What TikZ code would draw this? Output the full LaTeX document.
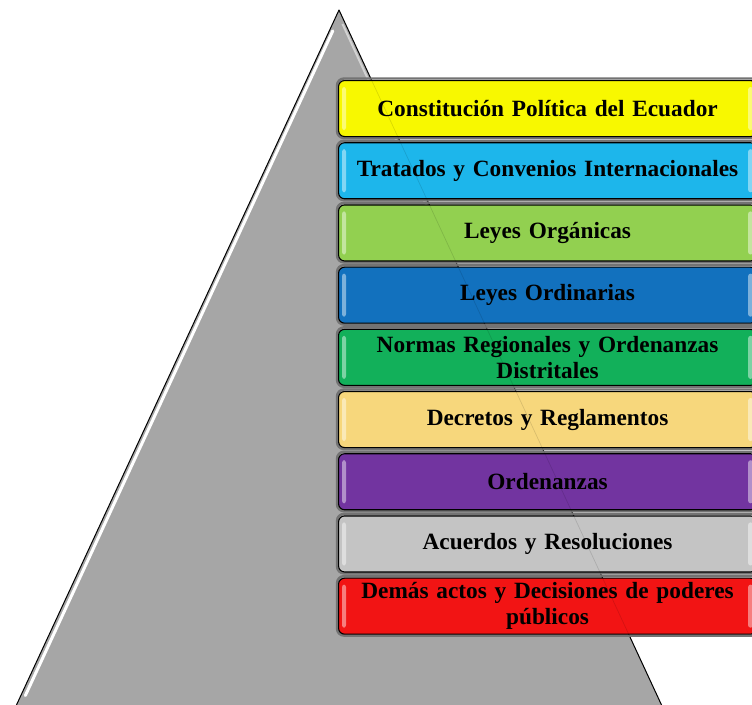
\documentclass[tikz,border=0pt]{standalone}
\usepackage{fontspec}
\setmainfont{Liberation Serif}
\usetikzlibrary{calc}
\definecolor{cYel}{HTML}{F8F800}
\definecolor{cCyan}{HTML}{1DB6EB}
\definecolor{cLgreen}{HTML}{92D050}
\definecolor{cBlue}{HTML}{1271BE}
\definecolor{cGreen}{HTML}{12B05A}
\definecolor{cOrange}{HTML}{F7D77C}
\definecolor{cPurple}{HTML}{7234A0}
\definecolor{cGray}{HTML}{C4C4C4}
\definecolor{cRed}{HTML}{F21414}
\definecolor{triGray}{HTML}{A6A6A6}
\tikzset{
  lvl/.style={draw=black, line width=1.1pt, rounded corners=6pt, minimum width=418pt, minimum height=56pt,
    inner sep=0pt, align=center, font=\fontsize{23.3}{26}\selectfont\bfseries, text width=410pt,
    anchor=north west},
  shade/.style={draw=black!55, line width=2.4pt, rounded corners=7pt},
  hilite/.style={fill=white, fill opacity=0.45, rounded corners=2.5pt},
}
\begin{document}
\begin{tikzpicture}[x=1pt,y=-1pt]
\useasboundingbox (0,0) rectangle (752,704);
\fill[white] (0,0) rectangle (752,704);
% triangle
\coordinate (apex) at (339,10);
\coordinate (bl) at (16,706);
\coordinate (br) at (662,706);
\fill[triGray] (apex) -- (bl) -- (br) -- cycle;
\draw[white, line width=3pt, line cap=round] ($(apex)!0.03!(bl)+(3.5,0)$) -- ($(apex)!0.985!(bl)+(4.5,0)$);
\draw[white, opacity=0.5, line width=2pt] ($(apex)!0.02!(br)+(-3,0)$) -- ($(apex)!0.3!(br)+(-3.5,0)$);
\draw[black, line width=1pt, line join=round] (bl) -- (apex) -- (br);
% boxes
\foreach \i/\col/\txt in {
  0/cYel/{Constitución Política del Ecuador},
  1/cCyan/{Tratados y Convenios Internacionales},
  2/cLgreen/{Leyes Orgánicas},
  3/cBlue/{Leyes Ordinarias},
  4/cGreen/{Normas Regionales y Ordenanzas\\Distritales},
  5/cOrange/{Decretos y Reglamentos},
  6/cPurple/{Ordenanzas},
  7/cGray/{Acuerdos y Resoluciones},
  8/cRed/{Demás actos y Decisiones de poderes\\públicos}} {
  \pgfmathsetmacro{\yy}{80+62.2*\i}
  \draw[shade] (337,\yy-1.5) rectangle (760,\yy+58);
  \node[lvl, fill=\col] (b\i) at (338,\yy) {\txt};
  \fill[hilite] ($(b\i.north west)+(4,7)$) rectangle ($(b\i.south west)+(8,-7)$);
  \fill[hilite] ($(b\i.north east)+(-9,7)$) rectangle ($(b\i.south east)+(-4,-7)$);
}
% faint triangle edge seen through boxes
\draw[black, opacity=0.12, line width=0.7pt] ($(apex)!0.09!(br)$) -- ($(apex)!0.9!(br)$);
\end{tikzpicture}
\end{document}
